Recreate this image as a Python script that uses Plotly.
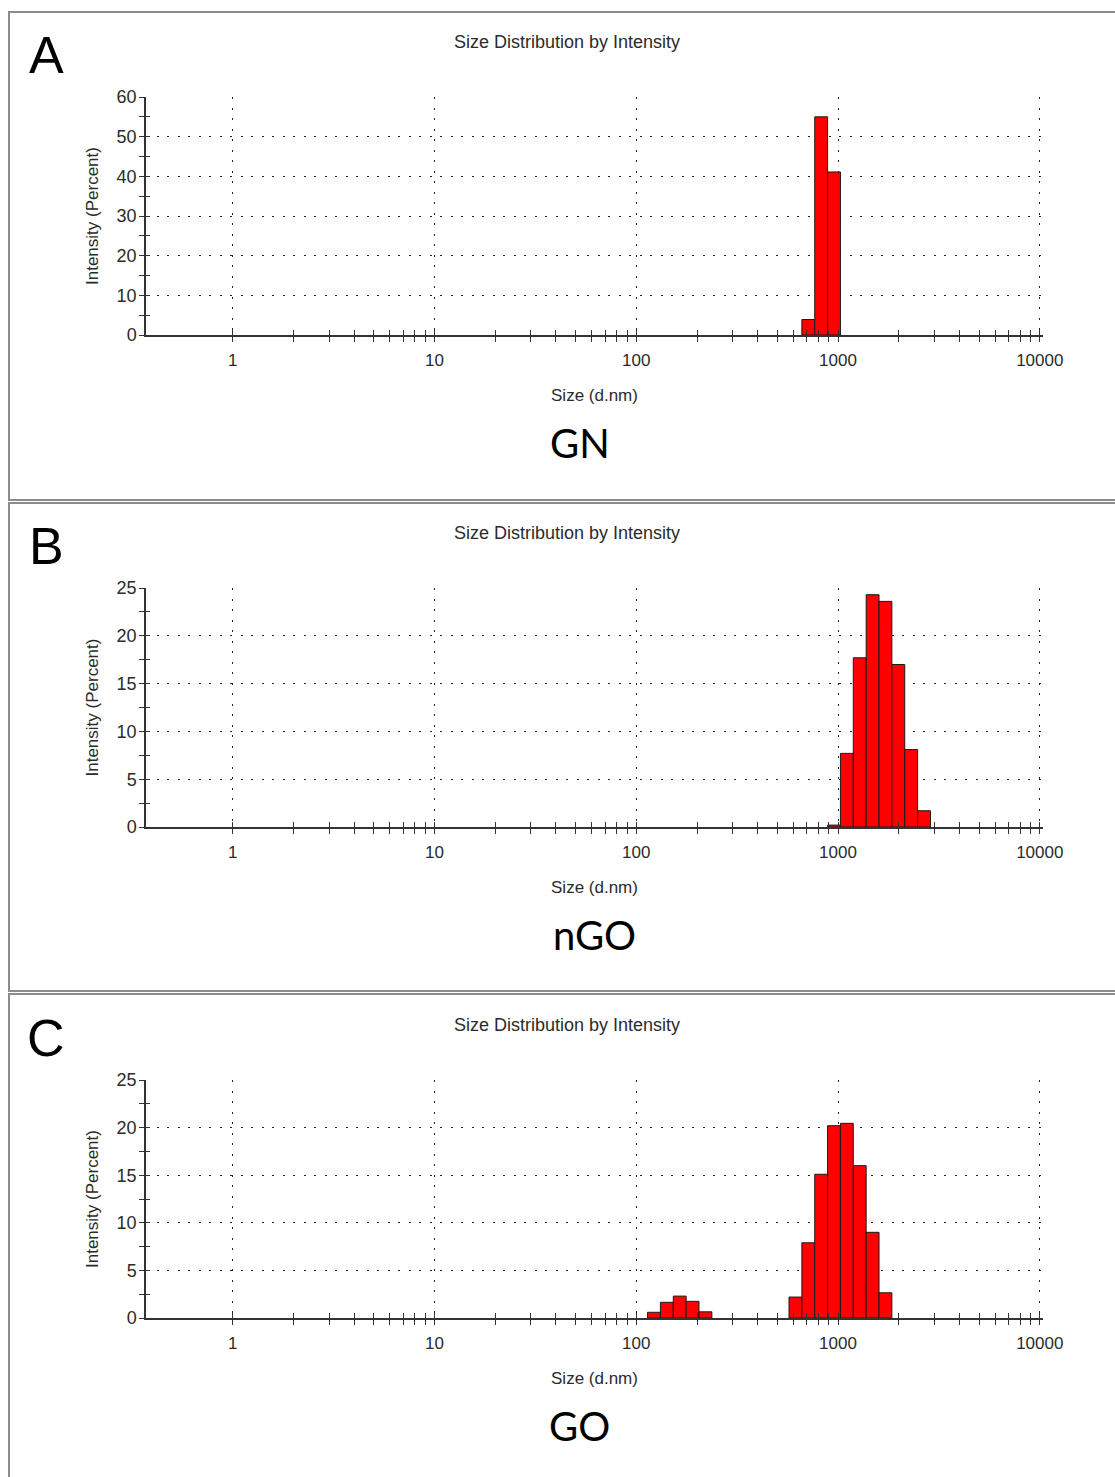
import numpy as np
import plotly.graph_objects as go

# ---------------- data ----------------
panel_letters = ["A", "B", "C"]
sample_names = ["GN", "nGO", "GO"]
chart_title = "Size Distribution by Intensity"
x_title = "Size (d.nm)"
y_title = "Intensity (Percent)"

x_tick_values = [1, 10, 100, 1000, 10000]
x_tick_labels = ["1", "10", "100", "1000", "10000"]

# Zetasizer size classes (d.nm) and intensity (%)
sizes_GN = [712.4, 825.0, 955.4]
intensity_GN = [3.9, 55.0, 41.1]

sizes_nGO = [955.4, 1106, 1281, 1484, 1718, 1990, 2305, 2669]
intensity_nGO = [0.2, 7.7, 17.7, 24.3, 23.6, 17.0, 8.1, 1.7]

sizes_GO = [122.4, 141.8, 164.2, 190.1, 220.2,
            615.1, 712.4, 825.0, 955.4, 1106, 1281, 1484, 1718]
intensity_GO = [0.6, 1.65, 2.3, 1.75, 0.65,
                2.2, 7.9, 15.1, 20.2, 20.45, 16.0, 9.0, 2.65]

y_max = [60, 25, 25]
y_major = [10, 5, 5]
y_minor = [5, 2.5, 2.5]

# ---------------- layout constants ----------------
W, H = 1115, 1477
N_CLASSES = 70
LOG_STEP = np.log10(10000 / 0.4) / (N_CLASSES - 1)
X_RANGE = [-0.43, 4.016]

def px(x):
    return x / W

def py(y):
    return 1 - y / H

plot_top = [97, 588, 1080]
plot_bot = [335, 827, 1318]
panel_top = [12, 503, 994]
panel_bot = [500, 991, 1490]
plot_left, plot_right = 146, 1043

datasets = [(sizes_GN, intensity_GN), (sizes_nGO, intensity_nGO), (sizes_GO, intensity_GO)]

FONT = "Liberation Sans, Arial, sans-serif"
TXT = "#2b2b2b"
GRID = "#222222"

minor_x = [m * d for d in [1, 10, 100, 1000] for m in range(2, 10)]

fig = go.Figure()
layout = dict(
    width=W, height=H, autosize=False,
    margin=dict(l=0, r=0, t=0, b=0, pad=0, autoexpand=False),
    paper_bgcolor="white", plot_bgcolor="white",
    showlegend=False,
    font=dict(family=FONT, size=17, color=TXT),
    shapes=[], annotations=[],
)

for i in range(3):
    n = i + 1
    ov = i + 4
    xs = "" if n == 1 else str(n)
    sizes, vals = datasets[i]
    s = np.array(sizes, dtype=float)
    lo = s * 10 ** (-LOG_STEP / 2)
    hi = s * 10 ** (LOG_STEP / 2)
    fig.add_trace(go.Bar(
        x=sizes, y=vals, base=0,
        offset=(lo - s).tolist(), width=(hi - lo).tolist(),
        marker=dict(color="#ff0000", line=dict(color="#1a1a1a", width=1)),
        xaxis="x" + xs, yaxis="y" + xs,
        hoverinfo="x+y",
    ))
    # overlay axes for ticks crossing the axis line
    fig.add_trace(go.Scatter(x=[], y=[], xaxis="x%d" % ov, yaxis="y%d" % ov,
                             showlegend=False, hoverinfo="skip"))

    dom_x = [px(plot_left), px(plot_right)]
    dom_y = [py(plot_bot[i]), py(plot_top[i])]

    layout["xaxis" + xs] = dict(
        type="log", range=X_RANGE, domain=dom_x, anchor="y" + xs,
        tickmode="array", tickvals=x_tick_values, ticktext=x_tick_labels,
        ticks="outside", ticklen=5, tickcolor="#333", tickwidth=1,
        showline=True, linecolor="#333", linewidth=1.5,
        showgrid=True, gridcolor=GRID, gridwidth=1, griddash="2px,8.5px",
        zeroline=False,
        minor=dict(tickmode="array", tickvals=minor_x, ticks="outside",
                   ticklen=5, tickcolor="#333", showgrid=False),
        ticklabelstandoff=4,
        tickfont=dict(family=FONT, size=17, color=TXT),
        title=dict(text=x_title, standoff=20, font=dict(family=FONT, size=17, color=TXT)),
        fixedrange=True,
    )
    layout["yaxis" + xs] = dict(
        range=[0, y_max[i]], domain=dom_y, anchor="x" + xs,
        tickmode="linear", tick0=0, dtick=y_major[i],
        ticks="outside", ticklen=5, tickcolor="#333", tickwidth=1,
        showline=True, linecolor="#333", linewidth=1.5,
        showgrid=True, gridcolor=GRID, gridwidth=1, griddash="2px,8.5px",
        zeroline=False,
        minor=dict(dtick=y_minor[i], tick0=0, ticks="outside", ticklen=5,
                   tickcolor="#333", showgrid=False),
        ticklabelstandoff=-1,
        tickfont=dict(family=FONT, size=18, color=TXT),
        title=dict(text=y_title, standoff=14, font=dict(family=FONT, size=17, color=TXT)),
        fixedrange=True,
    )
    layout["xaxis%d" % ov] = dict(
        type="log", range=X_RANGE, domain=dom_x, overlaying="x" + xs, anchor="y" + xs,
        tickmode="array", tickvals=x_tick_values, showticklabels=False,
        ticks="inside", ticklen=5, tickcolor="#333",
        minor=dict(tickmode="array", tickvals=minor_x, ticks="inside",
                   ticklen=5, tickcolor="#333", showgrid=False),
        showline=False, showgrid=False, zeroline=False, fixedrange=True,
    )
    layout["yaxis%d" % ov] = dict(
        range=[0, y_max[i]], domain=dom_y, overlaying="y" + xs, anchor="x" + xs,
        tickmode="linear", tick0=0, dtick=y_major[i], showticklabels=False,
        ticks="inside", ticklen=4, tickcolor="#333",
        minor=dict(dtick=y_minor[i], tick0=0, ticks="inside", ticklen=4,
                   tickcolor="#333", showgrid=False),
        showline=False, showgrid=False, zeroline=False, fixedrange=True,
    )

    # panel frame
    layout["shapes"].append(dict(
        type="rect", xref="paper", yref="paper",
        x0=px(9), x1=px(1125), y0=py(panel_bot[i]), y1=py(panel_top[i]),
        line=dict(color="#8c8c8c", width=2), fillcolor="rgba(0,0,0,0)", layer="below",
    ))
    # chart title
    layout["annotations"].append(dict(
        text=chart_title, xref="paper", yref="paper",
        x=px(567), y=py(plot_top[i] - 55), xanchor="center", yanchor="middle",
        showarrow=False, font=dict(family=FONT, size=18, color=TXT),
    ))
    # panel letter
    layout["annotations"].append(dict(
        text=panel_letters[i], xref="paper", yref="paper",
        x=px(46), y=py(plot_top[i] - 42), xanchor="center", yanchor="middle",
        showarrow=False, font=dict(family=FONT, size=52, color="#000"),
    ))
    # sample name
    name_x = [580, 594, 580][i]
    layout["annotations"].append(dict(
        text=sample_names[i], xref="paper", yref="paper",
        x=px(name_x), y=py(plot_bot[i] + 108), xanchor="center", yanchor="middle",
        showarrow=False, font=dict(family="Lato, Open Sans, sans-serif", size=40, color="#000"),
    ))

fig.update_layout(**layout)
fig.write_html(
    "out.html",
    config={"responsive": False, "displayModeBar": False},
    post_script=(
        "document.documentElement.style.margin='0';"
        "document.documentElement.style.overflow='hidden';"
        "document.body.style.margin='0';"
        "document.body.style.overflow='hidden';"
    ),
)
